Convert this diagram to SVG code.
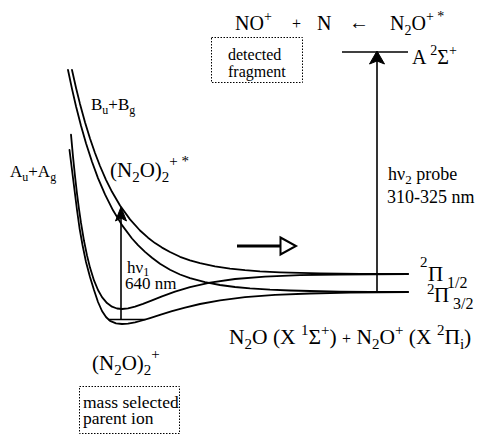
<svg xmlns="http://www.w3.org/2000/svg" width="479" height="434" viewBox="0 0 479 434">
<defs>
<style>
text{font-family:"Liberation Serif","Times New Roman",serif;fill:#000}
.curve{fill:none;stroke:#000;stroke-width:1.8;stroke-linejoin:round;stroke-linecap:round}
.line{fill:none;stroke:#000;stroke-width:1.6}
.box{fill:none;stroke:#000;stroke-width:1;stroke-dasharray:1.5 1.5}
.head{fill:#000;stroke:#000;stroke-width:1}
</style>
</defs>
<rect width="479" height="434" fill="#fff"/>
<g id="connectors">
<polyline id="R1" class="curve" points="72,70 76,87.7 80,103.9 85,122.2 90,138.5 95,153 100,166 106,179.8 112,191.8 120,205.5 130,219.4 140,230.5 148,237.7 155,243.1 162,247.6 170,252 180,256.8 190,260.3 200,263.2 215,266.4 230,268.6 245,270.2 260,271.3 280,272.3 300,272.9 320,273.3 360,273.8 408,274"/>
<polyline id="R2" class="curve" points="68,70 72,88.9 76,106.2 81,125.7 86,143.2 92,161.7 98,178.1 105,194.4 113,210.3 122,225.1 132,238.5 138,245.2 145,251.9 152,257.7 160,263.8 170,269.8 180,274.5 190,278.2 205,282.2 220,285 235,287 250,288.4 270,289.7 290,290.5 310,291 340,291.6 370,291.9 408,292"/>
<polyline id="B1" class="curve" points="71,134.6 73,156.7 75,176.2 77,193.7 79,209.1 81,222.9 84,240.8 87,255.4 90,267.6 94,280.4 98,290 102,297.1 107,303.1 112,306.7 117,308.5 122,309 128,308.4 135,306.7 143,303.9 152,300.3 162,296.3 175,291.6 190,287.1 210,282.6 235,279 265,276.6 300,275.2 340,274.5 408,274"/>
<polyline id="B2" class="curve" points="69.5,150 72,170 74.5,190 77,210 79.5,228 82.5,245 86,262 90,277 94,290 98,302 102,311 106,317 110,320.8 116,323.3 122,324 128,323.6 135,322.3 142,320.5 150,318.1 160,314.9 172,311.2 185,307.6 200,304 220,300.4 245,297.2 275,294.9 310,293.5 350,292.7 408,292"/>
<line class="line" x1="108" y1="319.5" x2="145.5" y2="319.5"/>
<line class="line" x1="121" y1="319.5" x2="121" y2="215"/>
<polygon class="head" points="121,207 115.5,221 121,218 126.5,221"/>
<line class="line" x1="342" y1="52" x2="408" y2="52"/>
<line class="line" x1="377" y1="292" x2="377" y2="60"/>
<polygon class="head" points="377,51 369.5,64 377,61 384.5,64"/>
<line x1="237" y1="246" x2="280" y2="246" stroke="#000" stroke-width="2.8"/>
<polygon points="280.5,237.5 296,246 280.5,254.5" fill="#fff" stroke="#000" stroke-width="2"/>
</g>
<g id="products">
<text x="235" y="30" font-size="20">NO<tspan font-size="14" dy="-9">+</tspan></text>
<text x="292" y="29" font-size="16">+</text>
<text x="317" y="30" font-size="20">N</text>
<text x="349" y="29" font-size="20">←</text>
<text x="390" y="30" font-size="20">N<tspan font-size="14" dy="5">2</tspan><tspan dy="-5">O</tspan><tspan font-size="14" dy="-9">+ *</tspan></text>
</g>
<g id="state-A">
<text x="412" y="64" font-size="20">A <tspan font-size="14" dy="-9">2</tspan><tspan dy="9">Σ</tspan><tspan font-size="14" dy="-9">+</tspan></text>
</g>
<g id="detected-fragment">
<rect class="box" x="211.5" y="37.5" width="91" height="45"/>
<text x="228" y="60" font-size="16">detected</text>
<text x="228" y="77" font-size="16">fragment</text>
</g>
<g id="label-B">
<text x="91" y="110" font-size="17">B<tspan font-size="12" dy="4">u</tspan><tspan dy="-4">+B</tspan><tspan font-size="12" dy="4">g</tspan></text>
</g>
<g id="label-A">
<text x="10" y="177" font-size="17">A<tspan font-size="12" dy="4">u</tspan><tspan dy="-4">+A</tspan><tspan font-size="12" dy="4">g</tspan></text>
</g>
<g id="label-excited">
<text x="110" y="177" font-size="21">(N<tspan font-size="15" dy="5">2</tspan><tspan dy="-5">O)</tspan><tspan font-size="15" dy="5">2</tspan><tspan font-size="15" dy="-16">+ *</tspan></text>
</g>
<g id="label-hv1">
<text x="127" y="273" font-size="17">hν<tspan font-size="12" dy="3">1</tspan></text>
<text x="125" y="289" font-size="17">640 nm</text>
</g>
<g id="label-hv2">
<text x="388" y="180" font-size="18">hν<tspan font-size="13" dy="4">2</tspan><tspan dy="-4">  probe</tspan></text>
<text x="387" y="203" font-size="18">310-325 nm</text>
</g>
<g id="level-Pi12">
<text x="420" y="267" font-size="15">2</text>
<text x="428" y="281" font-size="21">Π</text>
<text x="447" y="288" font-size="16">1/2</text>
</g>
<g id="level-Pi32">
<text x="427" y="294" font-size="15">2</text>
<text x="434" y="302" font-size="21">Π</text>
<text x="453" y="309" font-size="16">3/2</text>
</g>
<g id="asymptote-label">
<text x="229" y="344" font-size="21.5">N<tspan font-size="15" dy="5">2</tspan><tspan dy="-5">O (X </tspan><tspan font-size="15" dy="-9">1</tspan><tspan dy="9">Σ</tspan><tspan font-size="15" dy="-9">+</tspan><tspan dy="9">) </tspan><tspan font-size="16">+</tspan><tspan> N</tspan><tspan font-size="15" dy="5">2</tspan><tspan dy="-5">O</tspan><tspan font-size="15" dy="-9">+</tspan><tspan dy="9"> (X </tspan><tspan font-size="15" dy="-9">2</tspan><tspan dy="9">Π</tspan><tspan font-size="15" dy="5">i</tspan><tspan dy="-5">)</tspan></text>
</g>
<g id="parent-ion">
<text x="92" y="370" font-size="21">(N<tspan font-size="15" dy="5">2</tspan><tspan dy="-5">O)</tspan><tspan font-size="15" dy="5">2</tspan><tspan font-size="15" dy="-16">+</tspan></text>
</g>
<g id="mass-selected">
<rect class="box" x="79.5" y="386.5" width="100" height="47"/>
<text x="83" y="408" font-size="17.5">mass selected</text>
<text x="83" y="424" font-size="17.5">parent ion</text>
</g>
</svg>
